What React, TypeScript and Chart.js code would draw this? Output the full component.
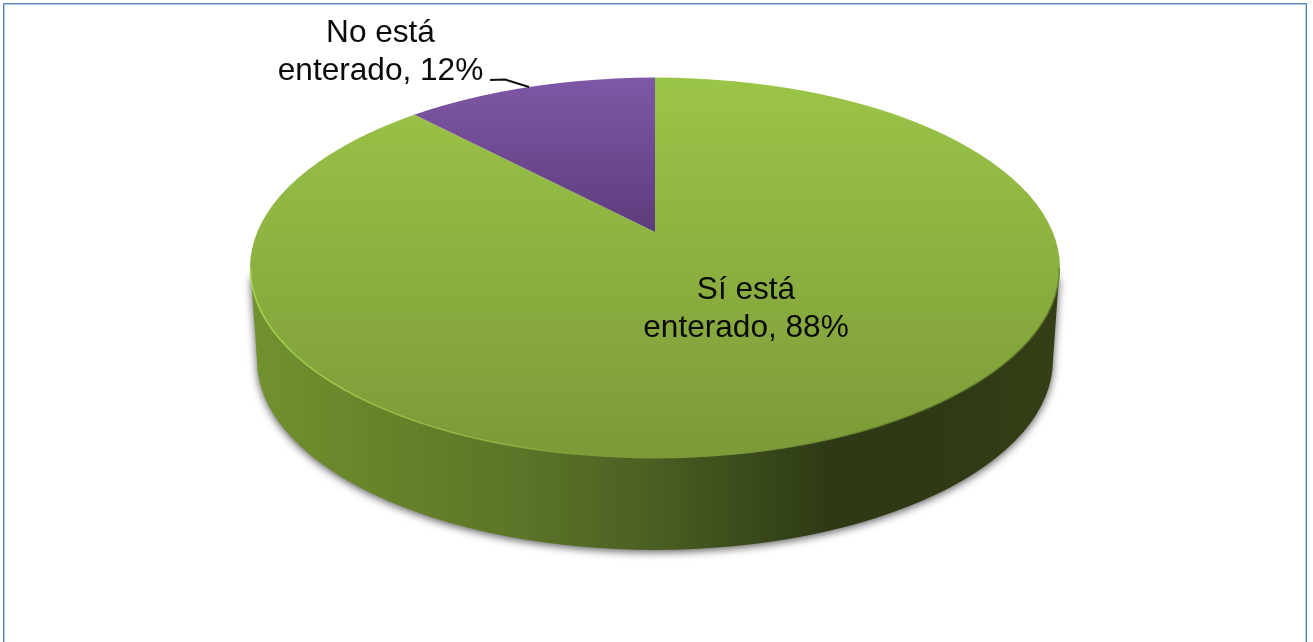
import React, { useEffect, useRef } from "react";
import { Chart, registerables } from "chart.js";

Chart.register(...registerables);

const categories = ["Sí está enterado", "No está enterado"];
const values = [88, 12];

const W = 1313;
const H = 642;
const FONT = '31.6px "Liberation Sans", Arial, sans-serif';

// Tilted-disc geometry
const TOP = { cx: 655, cy: 268, rx: 405, ry: 190.5 };
const BASE = { cx: 655, cy: 360, rx: 398, ry: 190 };
const APEX = { x: 655, y: 232, squash: 0.458 };
const RADIUS = 560;

const splitLabel = (i: number) => {
  const words = categories[i].split(" ");
  return [words.slice(0, 2).join(" "), `${words[2]}, ${values[i]}%`];
};

const LABEL_POS = [
  { x: 746, y: 299 },
  { x: 380.5, y: 42 },
];

const topClip = (ctx: CanvasRenderingContext2D) => {
  ctx.beginPath();
  ctx.ellipse(TOP.cx, TOP.cy, TOP.rx, TOP.ry, 0, 0, Math.PI * 2);
  ctx.clip();
};

const disc3d = {
  id: "disc3d",
  beforeDatasetsDraw(chart: any) {
    const ctx: CanvasRenderingContext2D = chart.ctx;
    ctx.save();
    const g = ctx.createLinearGradient(BASE.cx - BASE.rx, 0, BASE.cx + BASE.rx, 0);
    g.addColorStop(0, "#71912f");
    g.addColorStop(0.17, "#668229");
    g.addColorStop(0.33, "#5c7528");
    g.addColorStop(0.5, "#4b5e22");
    g.addColorStop(0.62, "#3a4a1a");
    g.addColorStop(0.72, "#2e3a15");
    g.addColorStop(0.85, "#2f3a15");
    g.addColorStop(1, "#343f17");
    ctx.shadowColor = "rgba(0,0,0,0.65)";
    ctx.shadowBlur = 9;
    ctx.shadowOffsetX = 0;
    ctx.shadowOffsetY = 2;
    ctx.fillStyle = g;
    ctx.beginPath();
    ctx.moveTo(TOP.cx - TOP.rx + 1, TOP.cy + 8);
    ctx.lineTo(BASE.cx - BASE.rx, BASE.cy);
    ctx.ellipse(BASE.cx, BASE.cy, BASE.rx, BASE.ry, 0, Math.PI, 0, true);
    ctx.lineTo(TOP.cx + TOP.rx - 1, TOP.cy + 8);
    ctx.closePath();
    ctx.fill();
    ctx.restore();
  },
  beforeDatasetDraw(chart: any) {
    const ctx: CanvasRenderingContext2D = chart.ctx;
    const arc = chart.getDatasetMeta(0).data[0];
    ctx.save();
    topClip(ctx);
    ctx.translate(APEX.x, APEX.y);
    ctx.scale(1, APEX.squash);
    ctx.translate(-arc.x, -arc.y);
  },
  afterDatasetDraw(chart: any) {
    chart.ctx.restore();
  },
  afterDatasetsDraw(chart: any) {
    const ctx: CanvasRenderingContext2D = chart.ctx;
    ctx.save();
    // Bevel highlight along the front-left rim of the disc
    const rim = ctx.createLinearGradient(TOP.cx - TOP.rx, 0, TOP.cx - 60, 0);
    rim.addColorStop(0, "rgba(170,215,80,0.9)");
    rim.addColorStop(0.7, "rgba(160,200,75,0.55)");
    rim.addColorStop(1, "rgba(160,200,75,0)");
    ctx.strokeStyle = rim;
    ctx.lineWidth = 1.6;
    ctx.beginPath();
    ctx.ellipse(TOP.cx, TOP.cy, TOP.rx - 0.5, TOP.ry - 0.5, 0, Math.PI * 0.5, Math.PI);
    ctx.stroke();
    // Soft dark edge on the front-right rim
    const edge = ctx.createLinearGradient(TOP.cx + 60, 0, TOP.cx + 300, 0);
    edge.addColorStop(0, "rgba(70,90,30,0)");
    edge.addColorStop(1, "rgba(70,90,30,0.55)");
    ctx.strokeStyle = edge;
    ctx.lineWidth = 1.4;
    ctx.beginPath();
    ctx.ellipse(TOP.cx, TOP.cy, TOP.rx - 0.5, TOP.ry - 0.5, 0, 0, Math.PI * 0.5);
    ctx.stroke();

    // Leader line
    ctx.strokeStyle = "#111";
    ctx.lineWidth = 2.2;
    ctx.beginPath();
    ctx.moveTo(490, 80);
    ctx.lineTo(505, 79.5);
    ctx.lineTo(529, 87);
    ctx.stroke();

    // Data labels
    ctx.font = FONT;
    ctx.fillStyle = "#0a0a0a";
    ctx.textAlign = "center";
    ctx.textBaseline = "alphabetic";
    categories.forEach((_, i) => {
      splitLabel(i).forEach((line, k) => {
        ctx.fillText(line, LABEL_POS[i].x, LABEL_POS[i].y + k * 38);
      });
    });
    ctx.restore();
  },
};

export default function App() {
  const ref = useRef<HTMLCanvasElement>(null);

  useEffect(() => {
    document.body.style.margin = "0";
    const canvas = ref.current!;
    const ctx = canvas.getContext("2d")!;
    const localY = (y: number) => H / 2 + (y - APEX.y) / APEX.squash;

    const green = ctx.createLinearGradient(0, localY(77), 0, localY(458));
    green.addColorStop(0, "#9bc548");
    green.addColorStop(1, "#7c9a38");
    const purple = ctx.createLinearGradient(0, localY(77), 0, localY(232));
    purple.addColorStop(0, "#7f58a6");
    purple.addColorStop(1, "#5e3b7c");

    const chart = new Chart(canvas, {
      type: "pie",
      data: {
        labels: categories,
        datasets: [
          {
            data: values,
            backgroundColor: [green, purple],
            borderWidth: 0,
            radius: RADIUS,
            clip: false,
          } as any,
        ],
      },
      options: {
        responsive: false,
        animation: false,
        layout: { padding: 0 },
        plugins: {
          legend: { display: false },
          tooltip: { enabled: false },
          title: { display: false },
        },
      },
      plugins: [disc3d],
    } as any);
    return () => chart.destroy();
  }, []);

  return (
    <div style={{ position: "relative", width: W, height: H, background: "#fff", overflow: "hidden" }}>
      <canvas ref={ref} width={W} height={H} style={{ display: "block" }} />
      <div
        style={{
          position: "absolute",
          left: 3,
          top: 3,
          width: 1304,
          height: H,
          boxSizing: "border-box",
          border: "1px solid #5585c0",
          boxShadow: "inset 0 0 0 1px #b9cde6",
          pointerEvents: "none",
        }}
      />
    </div>
  );
}
